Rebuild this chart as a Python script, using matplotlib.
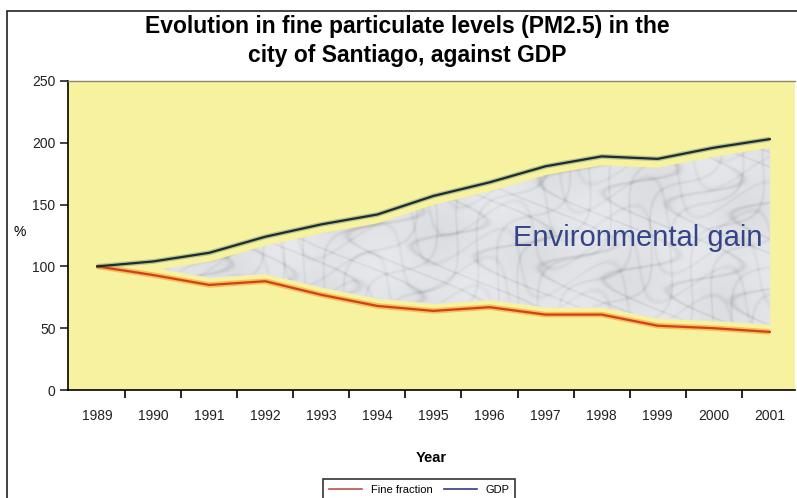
import matplotlib.pyplot as plt
import numpy as np
from matplotlib.patches import Rectangle

plt.rcParams['font.family'] = ['Liberation Sans', 'DejaVu Sans']

# Data (index, 1989 = 100)
years = ['1989', '1990', '1991', '1992', '1993', '1994', '1995',
         '1996', '1997', '1998', '1999', '2000', '2001']
gdp = [100, 104, 111, 124, 134, 142, 157, 168, 181, 189, 187, 196, 203]
fine_fraction = [100, 93, 85, 88, 77, 68, 64, 67, 61, 61, 52, 50, 47]

x = np.arange(len(years))
gdp_a = np.array(gdp, dtype=float)
fine_a = np.array(fine_fraction, dtype=float)

fig = plt.figure(figsize=(7.97, 4.98), dpi=100)
fig.patch.set_facecolor('white')

# outer frame of the picture
fig.add_artist(Rectangle((7 / 797, -0.1), 1.0, 1 - 11 / 498 + 0.1,
                         transform=fig.transFigure, fill=False,
                         edgecolor='#222222', linewidth=1.2))

ax = fig.add_axes([68 / 797, 108 / 498, 727 / 797, 309 / 498])
ax.set_facecolor('#f6f2a0')
ax.set_xlim(-0.52, 12.45)
ax.set_ylim(0, 250)

# "environmental gain" area, slightly inset from the two lines
lower = fine_a + 6
upper = gdp_a - 7
poly = ax.fill_between(x, lower, upper, where=upper >= lower, interpolate=True,
                       color='#e3e6eb', linewidth=0, zorder=1)

# faint marble veining, clipped to the area
gx, gy = np.meshgrid(np.linspace(0, 12, 900), np.linspace(0, 250, 450))
phase1 = gx * 3.1 + gy * 0.045 + 2.6 * np.sin(gy * 0.09 + gx * 0.7)
phase2 = gx * 5.3 - gy * 0.07 + 2.1 * np.cos(gx * 1.9 + gy * 0.04)
phase3 = gx * 1.7 + gy * 0.12 + 2.8 * np.sin(gx * 2.9 - gy * 0.03)
veins = (np.exp(-np.sin(phase1) ** 2 * 22) * 0.8
         + np.exp(-np.sin(phase2) ** 2 * 30) * 0.6
         + np.exp(-np.sin(phase3) ** 2 * 14) * 0.5
         + 0.3 * (np.sin(gx * 2.2 + gy * 0.03) * np.sin(gy * 0.05 - gx * 1.3)))
tex = ax.imshow(veins, extent=(0, 12, 0, 250), origin='lower', aspect='auto',
                cmap='Greys', vmin=-0.8, vmax=2.8, alpha=0.32, zorder=2,
                interpolation='bilinear')
tex.set_clip_path(poly.get_paths()[0], transform=ax.transData)

# lines with a soft glow
ax.plot(x, fine_a, color='#f0a030', linewidth=4, alpha=0.6, zorder=3,
        solid_capstyle='butt')
ax.plot(x, fine_a, color='#d2401a', linewidth=1.6, zorder=4, label='Fine fraction')
ax.plot(x, gdp_a, color='#7f9a6a', linewidth=3.5, alpha=0.5, zorder=3,
        solid_capstyle='butt')
ax.plot(x, gdp_a, color='#1d2b38', linewidth=1.6, zorder=4, label='GDP')

ax.text(9.65, 123, 'Environmental gain', color='#34448a', fontsize=21,
        ha='center', va='center', zorder=5)

# axes styling
ax.spines['right'].set_visible(False)
ax.spines['top'].set_color('#8c8a6a')
ax.spines['top'].set_linewidth(1.0)
ax.spines['left'].set_linewidth(1.2)
ax.spines['bottom'].set_linewidth(1.2)

ax.set_yticks([0, 50, 100, 150, 200, 250])
ax.tick_params(axis='y', direction='out', length=6, width=1.2, labelsize=10,
               pad=3, colors='#222222')
ax.set_xticks(x)
ax.set_xticklabels(years)
ax.set_xticks(x[:-1] + 0.5, minor=True)
ax.tick_params(axis='x', which='major', length=0, labelsize=10, pad=14,
               colors='#222222')
ax.tick_params(axis='x', which='minor', direction='out', length=6, width=1.2)

ax.set_xlabel('Year', fontsize=10.5, fontweight='bold', labelpad=20)
ax.set_ylabel('%', fontsize=10, rotation=0, va='center')
ax.yaxis.set_label_coords(-0.066, 0.51)

fig.text(0.511, 0.947, 'Evolution in fine particulate levels (PM2.5) in the',
         ha='center', va='center', fontsize=16.5, fontweight='bold')
fig.text(0.511, 0.888, 'city of Santiago, against GDP',
         ha='center', va='center', fontsize=16.5, fontweight='bold')

leg = fig.legend(handles=[ax.lines[1], ax.lines[3]],
                 labels=['Fine fraction', 'GDP'],
                 loc='upper left', bbox_to_anchor=(323 / 797, 1 - 479 / 498),
                 ncol=2, fontsize=8, frameon=True, fancybox=False,
                 edgecolor='black', handlelength=3, columnspacing=1.0,
                 borderpad=0.5, borderaxespad=0)
leg.get_frame().set_linewidth(1.2)
leg.legend_handles[0].set_color('#c0504d')
leg.legend_handles[1].set_color('#2f3f7f')
for h in leg.legend_handles:
    h.set_linewidth(1.2)

fig.savefig('out.png', dpi=100, facecolor='white')
